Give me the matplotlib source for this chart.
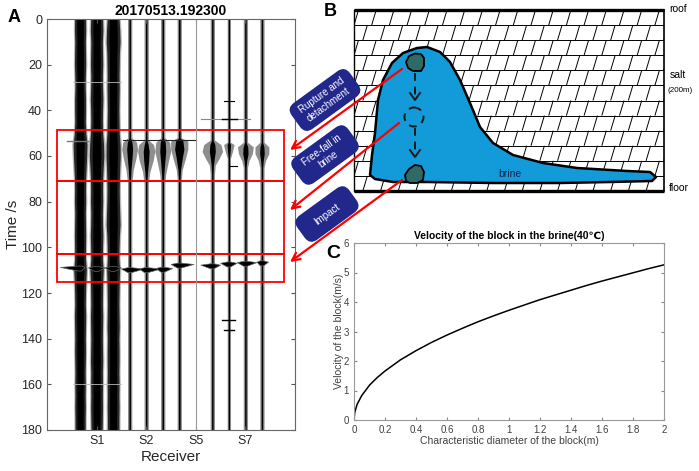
import numpy as np
import matplotlib
matplotlib.use("Agg")
import matplotlib.pyplot as plt
from matplotlib.patches import Polygon, Circle, Rectangle, FancyBboxPatch
from matplotlib.collections import LineCollection
from matplotlib.ticker import FormatStrFormatter
from matplotlib.transforms import Affine2D

plt.rcParams['font.family'] = ['Liberation Sans', 'DejaVu Sans']

# ── Panel A data: seismic section 20170513.192300 ──
trace_x = [2, 3, 4, 5, 6, 7, 8, 10, 11, 12, 13]
rec_ticks = [3, 6, 9, 12]
rec_labels = ["S1", "S2", "S5", "S7"]
dead_x = 9

# thick traces (S1 group): outer half-width of the wiggle every 5 s, 0..180
env_t = list(range(0, 181, 5))
thick_outer = [
    [0.33, 0.34, 0.32, 0.33, 0.34, 0.32, 0.31, 0.33, 0.33, 0.32, 0.35, 0.42, 0.40, 0.37, 0.34, 0.33, 0.34, 0.32, 0.33,
     0.34, 0.33, 0.33, 0.38, 0.35, 0.33, 0.32, 0.34, 0.33, 0.32, 0.33, 0.32, 0.31, 0.32, 0.31, 0.32, 0.31, 0.31],
    [0.36, 0.38, 0.35, 0.36, 0.37, 0.35, 0.36, 0.38, 0.36, 0.35, 0.37, 0.42, 0.44, 0.40, 0.37, 0.36, 0.37, 0.35, 0.36,
     0.38, 0.36, 0.35, 0.40, 0.37, 0.36, 0.35, 0.37, 0.36, 0.35, 0.36, 0.37, 0.35, 0.36, 0.35, 0.36, 0.35, 0.34],
    [0.36, 0.40, 0.42, 0.38, 0.37, 0.36, 0.37, 0.36, 0.35, 0.36, 0.37, 0.42, 0.43, 0.40, 0.38, 0.37, 0.38, 0.40, 0.42,
     0.38, 0.36, 0.35, 0.39, 0.37, 0.36, 0.35, 0.36, 0.37, 0.35, 0.36, 0.36, 0.35, 0.36, 0.35, 0.36, 0.35, 0.35],
]

# thin traces: (time, core half-width, fringe half-width)
thin_env = [
    [(0, .045, .13), (52, .045, .13), (54, .14, .42), (57, .18, .48), (61, .14, .38), (66, .08, .22), (72, .045, .13), (180, .045, .13)],
    [(0, .045, .13), (53, .045, .13), (55, .12, .45), (58, .18, .52), (62, .15, .42), (67, .08, .22), (72, .045, .13), (180, .045, .13)],
    [(0, .045, .13), (52, .045, .13), (54, .15, .42), (58, .18, .48), (63, .12, .32), (68, .07, .18), (72, .045, .13), (180, .045, .13)],
    [(0, .05, .13), (52, .05, .13), (53.5, .22, .52), (57, .28, .52), (61, .18, .38), (66, .08, .18), (70, .05, .13), (180, .05, .13)],
    [(0, .045, .13), (53, .045, .13), (55, .15, .52), (58, .18, .62), (61, .12, .42), (64, .07, .18), (68, .045, .13), (180, .045, .13)],
    [(0, .04, .10), (54, .04, .10), (55, .10, .32), (58, .08, .22), (61, .04, .10), (180, .04, .10)],
    [(0, .045, .13), (54, .045, .13), (56, .14, .48), (59, .16, .42), (62, .08, .22), (65, .045, .13), (180, .045, .13)],
    [(0, .045, .13), (54, .045, .13), (56, .12, .42), (59, .14, .42), (62, .08, .22), (65, .045, .13), (180, .045, .13)],
]

# impact arrivals per trace
ev_t = [108.8, 109.0, 109.0, 109.5, 109.5, 109.3, 107.5, 107.8, 107.0, 106.7, 106.5]
ev_left = [1.2, 0.5, 0.5, 0.5, 0.4, 0.4, 0.5, 0.7, 0.5, 0.5, 0.3]
ev_right = [0.3, 0.5, 0.5, 0.9, 0.9, 0.6, 0.9, 0.5, 0.5, 0.7, 0.4]

# isolated horizontal streaks: time, x from, x to, colour, width
streak_t = [53.3, 53.0, 44.0, 27.5, 160.0, 36.0, 44.0, 64.2, 131.7, 136.0]
streak_x0 = [1.2, 4.6, 9.3, 1.6, 1.6, 10.7, 10.6, 11.0, 10.6, 10.7]
streak_x1 = [2.5, 9.0, 12.3, 4.5, 4.5, 11.3, 11.5, 11.5, 11.4, 11.3]
streak_c = ["#777777", "#222222", "#888888", "#bbbbbb", "#bbbbbb", "k", "k", "k", "k", "k"]
streak_w = [1.0, 0.8, 0.8, 0.6, 0.6, 0.8, 1.0, 0.8, 1.0, 1.0]

# red windows (s)
win_t = [48.5, 71.0, 103.0, 115.2]
win_x = (0.6, 14.35)

# ── Panel C data: settling velocity ──
diam = [0, 0.005, 0.02, 0.05, 0.1, 0.15, 0.2, 0.3, 0.4, 0.5, 0.6, 0.7, 0.8, 0.9, 1.0,
        1.1, 1.2, 1.3, 1.4, 1.5, 1.6, 1.7, 1.8, 1.9, 2.0]
vel = [0, 0.26, 0.53, 0.83, 1.18, 1.44, 1.66, 2.04, 2.35, 2.63, 2.88, 3.11, 3.33, 3.53, 3.72,
       3.90, 4.08, 4.24, 4.40, 4.56, 4.71, 4.85, 4.99, 5.13, 5.26]

# ── Panel B sketch outlines (figure pixels) ──
cav_box = (354, 664, 10, 191)
brine_x = [370, 372, 375, 378, 383, 392, 403, 417, 427, 440, 450, 460, 470, 480, 493, 513, 543, 577, 627, 650,
           656, 652, 610, 560, 493, 427, 393, 375]
brine_y = [175, 155, 133, 100, 80, 63, 53, 48, 47, 52, 62, 80, 103, 127, 143, 155, 163, 168, 171, 172,
           177, 181, 182, 183, 183, 182, 182, 179]
rock_top_x = [409, 415, 421, 424, 424, 421, 413, 408, 406]
rock_top_y = [56, 53.5, 54, 58, 66, 71, 71, 68, 62]
rock_bot_x = [406, 405, 409, 415, 421, 424, 423, 417, 410]
rock_bot_y = [181, 175, 169, 165, 166, 172, 180, 183, 183]
link_start = [(402, 69), (399, 123), (402, 180)]
link_end = [(290, 150), (290, 210), (290, 262)]
tags = ["Rupture and\ndetachment", "Free-fall in\nbrine", "Impact"]
tag_pos = [(325, 100), (325, 155), (327, 214)]
tag_size = [(72, 32), (68, 32), (64, 30)]

RED = "#ff0000"
NAVY = "#22278c"
BLUE = "#129ad9"
ROCK = "#2f6b66"

fig = plt.figure(figsize=(6.99, 4.71), dpi=100)

# ── A ──
ax = fig.add_axes([47 / 699, 41 / 471, 248 / 699, 411 / 471])
for k in range(3):
    xc = trace_x[k]
    outer = np.array(thick_outer[k])
    ax.fill_betweenx(env_t, xc - outer * 1.2, xc + outer * 1.2, color="#b8b8b8", lw=0)
for k in range(3):
    xc = trace_x[k]
    outer = np.array(thick_outer[k])
    ax.fill_betweenx(env_t, xc - outer, xc + outer, color="#262626", lw=0)
    ax.fill_betweenx(env_t, xc - outer * 0.6, xc + outer * 0.6, color="k", lw=0)
for k, env in enumerate(thin_env):
    xc = trace_x[k + 3]
    tt = [e[0] for e in env]
    cw = np.array([e[1] for e in env])
    fw = np.array([e[2] for e in env])
    ax.fill_betweenx(tt, xc - fw, xc + fw, color="#8e8e8e", lw=0)
    ax.fill_betweenx(tt, xc - cw, xc + cw, color="k", lw=0)
for xc, t, l, r in zip(trace_x, ev_t, ev_left, ev_right):
    ax.add_patch(Polygon([(xc - l, t), (xc - 0.1, t - 0.6), (xc + 0.1, t - 0.6), (xc + r, t),
                          (xc + 0.1, t + 1.6), (xc - 0.1, t + 1.6)], closed=True, fc="k", ec="#666666", lw=0.5))
for t, x0, x1, c, w in zip(streak_t, streak_x0, streak_x1, streak_c, streak_w):
    ax.plot([x0, x1], [t, t], color=c, lw=w)
ax.axvline(dead_x, color="#9a9a9a", lw=0.8)
for t0, t1 in zip(win_t[:-1], win_t[1:]):
    ax.add_patch(Rectangle((win_x[0], t0), win_x[1] - win_x[0], t1 - t0, fill=False, ec=RED, lw=1.3))
ax.set_xlim(0, 15)
ax.set_ylim(180, 0)
ax.set_yticks(range(0, 181, 20))
ax.set_xticks(rec_ticks)
ax.set_xticklabels(rec_labels)
ax.tick_params(direction="in", top=True, right=True, length=3, labelsize=9, colors="#555555", labelcolor="#262626")
for s in ax.spines.values():
    s.set_color("#666666")
    s.set_linewidth(0.8)
ax.set_ylabel("Time /s", fontsize=11, color="#262626", labelpad=1)
ax.set_xlabel("Receiver", fontsize=11, color="#262626", labelpad=2)
ax.set_title("20170513.192300", fontsize=10, fontweight="bold", pad=3)

# ── C ──
axc = fig.add_axes([354 / 699, 51 / 471, 310 / 699, 177 / 471])
axc.plot(diam, vel, color="k", lw=1.1)
axc.set_xlim(0, 2)
axc.set_ylim(0, 6)
axc.set_xticks(np.arange(0, 2.01, 0.2))
axc.xaxis.set_major_formatter(FormatStrFormatter("%g"))
axc.set_yticks(range(0, 7))
axc.tick_params(direction="in", top=True, right=True, length=2.5, labelsize=7, colors="#888888", labelcolor="#404040")
for s in axc.spines.values():
    s.set_color("#999999")
    s.set_linewidth(0.8)
axc.set_xlabel("Characteristic diameter of the block(m)", fontsize=7.5, color="#404040", labelpad=1)
axc.set_ylabel("Velocity of the block(m/s)", fontsize=7.5, color="#404040", labelpad=0)
axc.set_title("Velocity of the block in the brine(40\u2103)", fontsize=7.5, fontweight="bold", pad=3)

# ── overlay: B sketch, arrows, panel letters ──
ov = fig.add_axes([0, 0, 1, 1], zorder=10)
ov.set_xlim(0, 699)
ov.set_ylim(471, 0)
ov.axis("off")
ov.patch.set_alpha(0)

bx0, bx1, by0, by1 = cav_box
n_rows = 12
row_h = (by1 - by0) / n_rows
brick_w = 17.7
slant = 4.5
segs = []
for r in range(n_rows):
    ytop = by0 + r * row_h
    ybot = ytop + row_h
    segs.append([(bx0, ybot), (bx1, ybot)])
    xb = bx0 - brick_w + (r % 2) * brick_w / 2
    while xb < bx1 + brick_w:
        segs.append([(xb, ybot), (xb + slant, ytop)])
        xb += brick_w
clip = Rectangle((bx0, by0), bx1 - bx0, by1 - by0, transform=ov.transData, fill=False)
lc = LineCollection(segs, colors="k", linewidths=0.7)
ov.add_collection(lc)
lc.set_clip_path(clip)
ov.plot([bx0, bx0], [by0, by1], color="k", lw=1.0)
ov.plot([bx1, bx1], [by0, by1], color="k", lw=1.2)
ov.plot([bx0, bx1], [by0, by0], color="k", lw=2.4, solid_capstyle="butt")
ov.plot([bx0, bx1], [by1, by1], color="k", lw=2.4, solid_capstyle="butt")

ov.add_patch(Polygon(list(zip(brine_x, brine_y)), closed=True, fc=BLUE, ec="k", lw=1.8, joinstyle="round", zorder=3))
ov.add_patch(Polygon(list(zip(rock_top_x, rock_top_y)), closed=True, fc=ROCK, ec="k", lw=1.3, zorder=4))
ov.add_patch(Polygon(list(zip(rock_bot_x, rock_bot_y)), closed=True, fc=ROCK, ec="k", lw=1.3, zorder=4))
ov.plot([415, 415], [73, 99], color="#1a1a1a", lw=1.4, ls=(0, (4, 3)), zorder=4)
ov.plot([415, 415], [128, 156], color="#1a1a1a", lw=1.4, ls=(0, (4, 3)), zorder=4)
for ytip in (100, 157):
    ov.plot([410, 415, 420], [ytip - 7, ytip, ytip - 7], color="#1a1a1a", lw=1.4, zorder=4)
ov.add_patch(Circle((414, 117), 9.5, fill=False, ec="#1a1a1a", lw=1.4, ls=(0, (4, 3)), zorder=4))
ov.text(510, 174, "brine", fontsize=7.5, color="#1a2250", ha="center", va="center", zorder=5)
ov.text(669, 9, "roof", fontsize=7.5, ha="left", va="center")
ov.text(670, 75, "salt", fontsize=7.5, ha="left", va="center")
ov.text(667, 91, "(200m)", fontsize=5.8, ha="left", va="center")
ov.text(669, 188, "floor", fontsize=7.5, ha="left", va="center")

for (xs, ys), (xe, ye) in zip(link_start, link_end):
    ov.annotate("", xy=(xe, ye), xytext=(xs, ys),
                arrowprops=dict(arrowstyle="->", color=RED, lw=1.6, mutation_scale=14, shrinkA=0, shrinkB=0), zorder=6)
for txt, (tx, ty), (w, h) in zip(tags, tag_pos, tag_size):
    rot = Affine2D().rotate_deg_around(tx, ty, -36) + ov.transData
    ov.add_patch(FancyBboxPatch((tx - w / 2, ty - h / 2), w, h, boxstyle="round,pad=0,rounding_size=9",
                                fc=NAVY, ec="none", transform=rot, zorder=7))
    ov.text(tx, ty, txt, rotation=36, fontsize=7, color="white", ha="center", va="center",
            multialignment="center", rotation_mode="anchor", zorder=8)

ov.text(14, 17, "A", fontsize=13, fontweight="bold", ha="center", va="center")
ov.text(330, 12, "B", fontsize=13, fontweight="bold", ha="center", va="center")
ov.text(333, 253, "C", fontsize=14, fontweight="bold", ha="center", va="center")

fig.savefig("out.png", dpi=100)
